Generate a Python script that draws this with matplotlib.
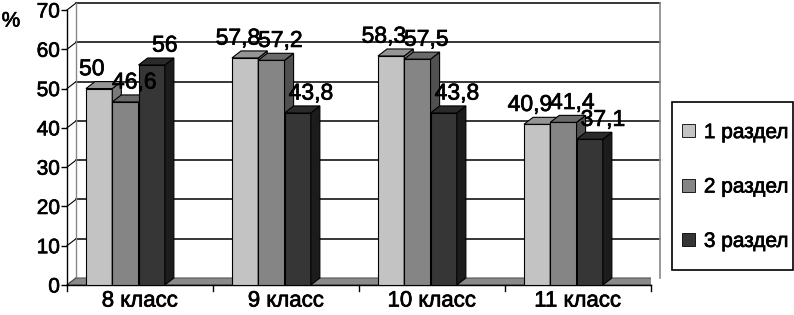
import matplotlib
matplotlib.use("Agg")
import matplotlib.pyplot as plt
import matplotlib.patheffects as pe
from matplotlib.patches import Polygon, Patch, Rectangle

plt.rcParams["font.family"] = ["Liberation Sans", "DejaVu Sans"]

categories = ["8 класс", "9 класс", "10 класс", "11 класс"]
series_names = ["1 раздел", "2 раздел", "3 раздел"]
razdel_1 = [50, 57.8, 58.3, 40.9]
razdel_2 = [46.6, 57.2, 57.5, 41.4]
razdel_3 = [56, 43.8, 43.8, 37.1]
yticks = [0, 10, 20, 30, 40, 50, 60, 70]

series = [razdel_1, razdel_2, razdel_3]
front_colors = ["#c3c3c3", "#858585", "#363636"]
top_colors = ["#959595", "#6a6a6a", "#2a2a2a"]
side_colors = ["#7a7a7a", "#505050", "#1c1c1c"]

# 3d depth offset in data units (~9 px right, ~7 px up)
DX = 0.062
DY = 1.78
W = 0.18
START = 0.13
LABEL_DX = [-0.05, 0.06, 0.09]

heavy = [pe.withStroke(linewidth=0.5, foreground="black")]

fig = plt.figure(figsize=(7.94, 3.15), dpi=100)
ax = fig.add_axes([67 / 794, 30 / 315, (651 - 67) / 794, 275 / 315])
ax.set_xlim(0, len(categories))
ax.set_ylim(0, 70)
for s in ["top", "right", "bottom"]:
    ax.spines[s].set_visible(False)
ax.spines["left"].set_linewidth(1.0)

n = len(categories)

# floor
floor = Polygon([(0, 0), (n, 0), (n + DX, DY), (DX, DY)], closed=True,
                facecolor="#8a8a8a", edgecolor="#555555", lw=0.8, zorder=1)
ax.add_patch(floor)

# back wall gridlines + left diagonal ticks
for v in yticks:
    if v > 0:
        ax.plot([DX, n + DX], [v + DY, v + DY], color="black", lw=1.1,
                zorder=0.5, clip_on=False)
    ax.plot([0, DX], [v, v + DY], color="black", lw=0.8, zorder=0.5, clip_on=False)
ax.plot([DX, DX], [DY, 70 + DY], color="#888888", lw=1.0, zorder=0.6, clip_on=False)
ax.plot([n + DX, n + DX], [DY, 70 + DY], color="#888888", lw=1.2, zorder=0.6, clip_on=False)

# front base line
ax.plot([0, n], [0, 0], color="black", lw=1.0, zorder=2, clip_on=False)
for i in range(n + 1):
    ax.plot([i, i], [0, -1.5], color="black", lw=1.0, clip_on=False)

z = 3
for i in range(n):
    for j, vals in enumerate(series):
        h = vals[i]
        x0 = i + START + j * W
        ax.bar(x0, h, width=W, align="edge", color=front_colors[j],
               edgecolor="black", lw=0.8, zorder=z)
        top = Polygon([(x0, h), (x0 + W, h), (x0 + W + DX, h + DY), (x0 + DX, h + DY)],
                      closed=True, facecolor=top_colors[j], edgecolor="black",
                      lw=0.8, zorder=z, clip_on=False)
        side = Polygon([(x0 + W, 0), (x0 + W + DX, DY), (x0 + W + DX, h + DY), (x0 + W, h)],
                       closed=True, facecolor=side_colors[j], edgecolor="black",
                       lw=0.8, zorder=z, clip_on=False)
        ax.add_patch(side)
        ax.add_patch(top)
        txt = f"{h:g}".replace(".", ",")
        ax.text(x0 + W / 2 + LABEL_DX[j], h + 3.4, txt, ha="center", va="baseline",
                fontsize=16.5, zorder=20, clip_on=False, path_effects=heavy)
        z += 1

ax.set_yticks(yticks)
ax.set_yticklabels([str(v) for v in yticks], fontsize=15, path_effects=heavy)
ax.tick_params(axis="y", length=4, width=1, pad=1)
ax.set_xticks([i + 0.5 for i in range(n)])
ax.set_xticklabels(categories, fontsize=16, path_effects=heavy)
ax.tick_params(axis="x", length=0, pad=4)

fig.text(11 / 794, 1 - 21 / 315, "%", fontsize=15, ha="center", va="center",
         path_effects=heavy)

# legend
handles = [Patch(facecolor=front_colors[j], edgecolor="black", lw=0.6)
           for j in range(3)]
fig.patches.append(Rectangle((672 / 794, (315 - 270) / 315), 121 / 794, 168 / 315,
                             transform=fig.transFigure, facecolor="white",
                             edgecolor="black", lw=1.2))
leg = fig.legend(handles, series_names, loc="center left", frameon=False,
                 bbox_to_anchor=(682 / 794, (315 - 187) / 315), fontsize=15,
                 handlelength=0.6, handleheight=0.6, handletextpad=0.45,
                 labelspacing=1.7, borderpad=0, borderaxespad=0)
for t in leg.get_texts():
    t.set_path_effects(heavy)

fig.savefig("out.png", dpi=100)
